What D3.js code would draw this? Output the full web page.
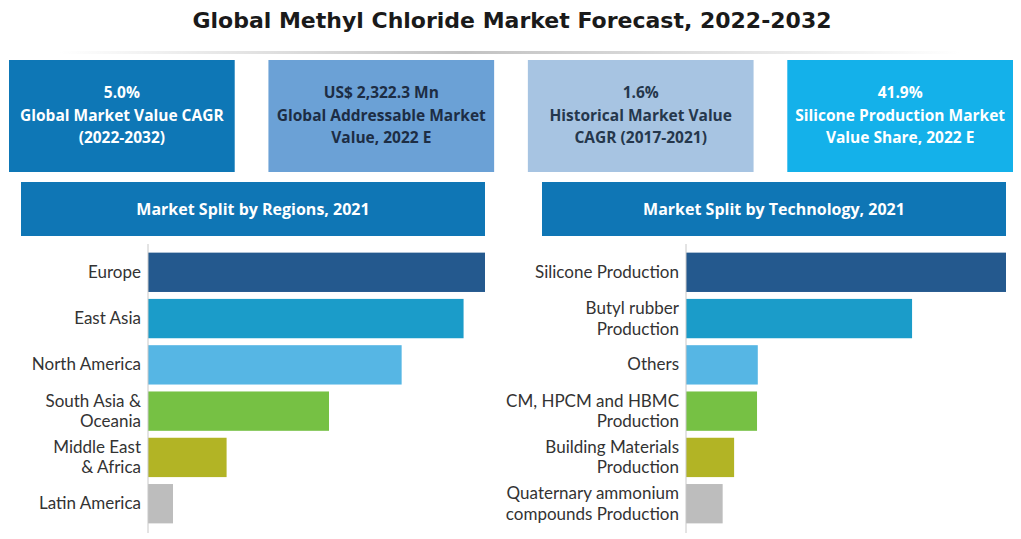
<!DOCTYPE html>
<meta charset="utf-8">
<script src="https://d3js.org/d3.v7.min.js"></script>
<style>
  body { margin: 0; background: #fff; }
  text { font-family: "Open Sans", sans-serif; }
</style>
<div id="chart"></div>
<script>

// the data
var title = "Global Methyl Chloride Market Forecast, 2022-2032";

var cardLines = [
  ["5.0%", "Global Market Value CAGR", "(2022-2032)"],
  ["US$ 2,322.3 Mn", "Global Addressable Market", "Value, 2022 E"],
  ["1.6%", "Historical Market Value", "CAGR (2017-2021)"],
  ["41.9%", "Silicone Production Market", "Value Share, 2022 E"]
];
var cardFill = ["#0e77b6", "#6ba1d6", "#a7c4e2", "#14b1ea"];
var cardInk = ["#ffffff", "#1d2d44", "#25374c", "#ffffff"];

var regions = ["Europe", "East Asia", "North America", "South Asia & Oceania",
               "Middle East & Africa", "Latin America"];
var regionShare = [28.3, 26.5, 21.3, 15.2, 6.6, 2.1];

var technologies = ["Silicone Production", "Butyl rubber Production", "Others",
                    "CM, HPCM and HBMC Production", "Building Materials Production",
                    "Quaternary ammonium compounds Production"];
var techShare = [41.9, 29.6, 9.4, 9.3, 6.3, 4.8];

// label line breaks as shown in the picture
var labelBreaks = {
  "South Asia & Oceania": ["South Asia &", "Oceania"],
  "Middle East & Africa": ["Middle East", "& Africa"],
  "Butyl rubber Production": ["Butyl rubber", "Production"],
  "CM, HPCM and HBMC Production": ["CM, HPCM and HBMC", "Production"],
  "Building Materials Production": ["Building Materials", "Production"],
  "Quaternary ammonium compounds Production": ["Quaternary ammonium", "compounds Production"]
};

var barColors = ["#24598e", "#1b9cc9", "#56b6e4", "#76c144", "#b2b425", "#bdbdbd"];

var W = 1021, H = 539;

var svg = d3.select("#chart")
  .append("svg")
    .attr("width", W)
    .attr("height", H);

// faint separator under the title
var grad = svg.append("defs").append("linearGradient").attr("id", "sep");
grad.append("stop").attr("offset", "0%").attr("stop-color", "#fff");
grad.append("stop").attr("offset", "45%").attr("stop-color", "#9a9a9a");
grad.append("stop").attr("offset", "100%").attr("stop-color", "#fff");
svg.append("rect")
    .attr("x", 60).attr("y", 51).attr("width", 900).attr("height", 3)
    .style("fill", "url(#sep)")
    .style("opacity", 0.6);

// title
svg.append("text")
    .attr("x", 512)
    .attr("y", 28)
    .attr("text-anchor", "middle")
    .style("font-family", "'DejaVu Sans', sans-serif")
    .style("font-weight", "bold")
    .style("font-size", "22px")
    .style("fill", "#1a1a1a")
    .text(title);

// KPI cards
var cardX = d3.scaleBand()
    .domain(d3.range(cardLines.length))
    .range([9, 1013])
    .paddingInner(0.13);

var cards = svg.selectAll(".card")
  .data(cardLines)
  .enter()
  .append("g")
    .attr("class", "card")
    .attr("transform", function(d, i) { return "translate(" + cardX(i) + ",60)"; });

cards.append("rect")
    .attr("width", cardX.bandwidth())
    .attr("height", 112)
    .style("fill", function(d, i) { return cardFill[i]; });

cards.each(function(d, i) {
  var t = d3.select(this).append("text")
      .attr("x", cardX.bandwidth() / 2)
      .attr("y", 38)
      .attr("text-anchor", "middle")
      .style("font-size", "15.5px")
      .style("font-weight", "700")
      .style("fill", cardInk[i]);
  d.forEach(function(line, k) {
    t.append("tspan")
      .attr("x", cardX.bandwidth() / 2)
      .attr("dy", k === 0 ? 0 : 22.5)
      .text(line);
  });
});

// one bar panel
function panel(cats, vals, header, hx0, hx1, axisX) {
  var g = svg.append("g");

  g.append("rect")
      .attr("x", hx0).attr("y", 182)
      .attr("width", hx1 - hx0).attr("height", 54)
      .style("fill", "#0f76b5");
  g.append("text")
      .attr("x", (hx0 + hx1) / 2)
      .attr("y", 215)
      .attr("text-anchor", "middle")
      .style("font-size", "16px")
      .style("font-weight", "700")
      .style("fill", "#fff")
      .text(header);

  var y = d3.scaleBand()
      .domain(cats)
      .range([248, 528])
      .paddingInner(0.15)
      .paddingOuter(0.1);

  var x = d3.scaleLinear()
      .domain([0, d3.max(vals)])
      .range([axisX, hx1]);

  g.selectAll(".bar")
    .data(cats)
    .enter()
    .append("rect")
      .attr("x", axisX)
      .attr("y", function(d) { return y(d); })
      .attr("width", function(d, i) { return x(vals[i]) - axisX; })
      .attr("height", y.bandwidth())
      .style("fill", function(d, i) { return barColors[i]; });

  var ax = g.append("g")
      .attr("transform", "translate(" + axisX + ",0)")
      .call(d3.axisLeft(y).tickSize(0).tickPadding(7).tickSizeOuter(0));
  ax.select(".domain")
      .attr("d", "M0,244V533")
      .style("stroke", "#c8c8c8");
  ax.selectAll(".tick text")
      .style("font-size", "17px")
      .style("fill", "#333")
      .style("font-family", "Lato, sans-serif")
      .each(function(d) {
        var lines = labelBreaks[d];
        if (!lines) return;
        var t = d3.select(this).text("");
        lines.forEach(function(line, k) {
          t.append("tspan")
            .attr("x", -7)
            .attr("dy", k === 0 ? "-0.27em" : "20.6px")
            .text(line);
        });
      });
}

panel(regions, regionShare, "Market Split by Regions, 2021", 21, 485, 148);
panel(technologies, techShare, "Market Split by Technology, 2021", 542, 1006, 686);

</script>
